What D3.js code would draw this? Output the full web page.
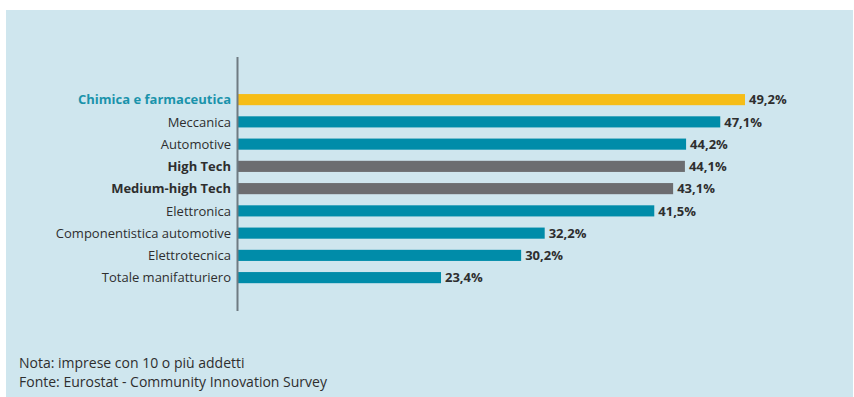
<!DOCTYPE html>
<html>
<head>
<meta charset="utf-8">
<script src="https://cdn.jsdelivr.net/npm/d3@7"></script>
<style>
  html, body { margin: 0; padding: 0; background: #ffffff; }
  svg { display: block; }
</style>
</head>
<body>
<script>
// Quota di imprese innovatrici per settore (%)
const categories = [
  "Chimica e farmaceutica",
  "Meccanica",
  "Automotive",
  "High Tech",
  "Medium-high Tech",
  "Elettronica",
  "Componentistica automotive",
  "Elettrotecnica",
  "Totale manifatturiero"
];
const values = [49.2, 47.1, 44.2, 44.1, 43.1, 41.5, 32.2, 30.2, 23.4];
const valueLabels = ["49,2%", "47,1%", "44,2%", "44,1%", "43,1%", "41,5%", "32,2%", "30,2%", "23,4%"];
const groups = ["focus", "settore", "settore", "aggregato", "aggregato", "settore", "settore", "settore", "settore"];
const notes = [
  "Nota: imprese con 10 o più addetti",
  "Fonte: Eurostat - Community Innovation Survey"
];

const W = 854, H = 397;
const FONT = "'Open Sans', 'Noto Sans', sans-serif";
const barColor = { focus: "#f6bd17", settore: "#008ca9", aggregato: "#6c6d70" };
const labelColor = { focus: "#1a93ab", settore: "#2e2e2e", aggregato: "#2e2e2e" };

const svg = d3.select("body").append("svg")
  .attr("width", W).attr("height", H);

// pannello di sfondo
svg.append("rect")
  .attr("x", 6).attr("y", 10)
  .attr("width", W - 7).attr("height", H - 10)
  .attr("fill", "#cfe6ee");

const axisX = 238;
const x = d3.scaleLinear().domain([6.17, 49.2]).range([axisX, 745]);
const y = d3.scaleBand()
  .domain(categories)
  .range([88.5, 88.5 + 9 * 22.25])
  .paddingInner(0.5)
  .paddingOuter(0.25);

const rows = categories.map((c, i) => ({ c, v: values[i], lab: valueLabels[i], g: groups[i] }));

// barre
svg.append("g").selectAll("rect")
  .data(rows)
  .join("rect")
  .attr("x", axisX)
  .attr("y", d => y(d.c))
  .attr("width", d => x(d.v) - axisX)
  .attr("height", y.bandwidth())
  .attr("fill", d => barColor[d.g]);

// asse verticale
svg.append("line")
  .attr("x1", axisX - 0.5).attr("x2", axisX - 0.5)
  .attr("y1", 57).attr("y2", 311)
  .attr("stroke", "#6f7b82").attr("stroke-width", 2);

// etichette delle categorie
svg.append("g").selectAll("text")
  .data(rows)
  .join("text")
  .attr("x", 231)
  .attr("y", d => y(d.c) + y.bandwidth() / 2)
  .attr("dy", "0.36em")
  .attr("text-anchor", "end")
  .attr("font-family", FONT)
  .attr("font-size", 13)
  .attr("font-weight", d => d.g === "settore" ? 400 : 700)
  .attr("fill", d => labelColor[d.g])
  .text(d => d.c);

// etichette dei valori
svg.append("g").selectAll("text")
  .data(rows)
  .join("text")
  .attr("x", d => x(d.v) + 4)
  .attr("y", d => y(d.c) + y.bandwidth() / 2)
  .attr("dy", "0.36em")
  .attr("font-family", FONT)
  .attr("font-size", 13)
  .attr("font-weight", 700)
  .attr("fill", "#2e2e2e")
  .text(d => d.lab);

// note
svg.append("g").selectAll("text")
  .data(notes)
  .join("text")
  .attr("x", 19)
  .attr("y", (d, i) => 368 + i * 19)
  .attr("font-family", FONT)
  .attr("font-size", 14)
  .attr("fill", "#2e2e2e")
  .text(d => d);
</script>
</body>
</html>
